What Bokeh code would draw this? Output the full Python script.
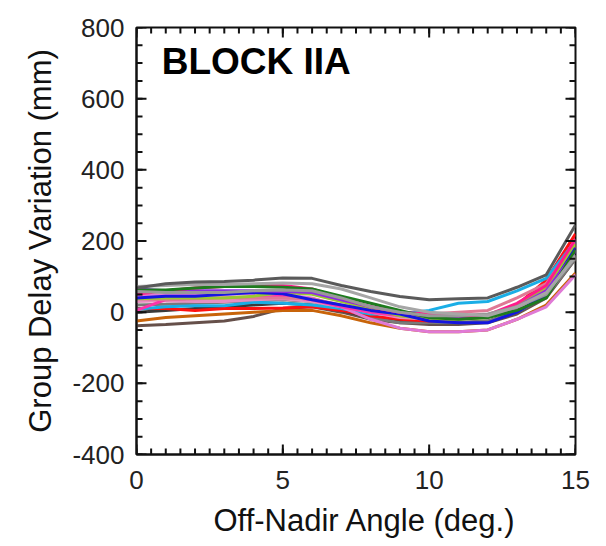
from bokeh.plotting import figure
from bokeh.models import Label, Range1d, FixedTicker, Title
from bokeh.embed import file_html
from bokeh.resources import INLINE

# Off-nadir angle (deg.)
angles = [0, 1, 2, 3, 4, 5, 6, 7, 8, 9, 10, 11, 12, 13, 14, 15]

# Group delay variation (mm) per satellite
sv_darkgray  = [68, 80, 85, 86, 90, 96, 95, 75, 58, 44, 35, 38, 40, 70, 105, 245]
sv_lightgray = [72, 75, 78, 78, 80, 82, 80, 65, 40, 15, 0, -5, -10, 15, 55, 155]
sv_gray      = [58, 55, 55, 55, 60, 62, 60, 40, 15, 0, -10, -10, -5, 15, 50, 160]
sv_green     = [62, 62, 68, 72, 72, 70, 65, 45, 25, 5, -15, -20, -15, 5, 40, 175]
sv_deeppink  = [50, 60, 68, 72, 74, 75, 65, 40, 15, 0, -5, -10, -8, 25, 75, 205]
sv_purple    = [65, 60, 60, 60, 60, 58, 55, 35, 15, 0, -10, -12, -10, 15, 60, 170]
sv_blue      = [40, 45, 45, 50, 55, 52, 35, 20, 5, -5, -25, -30, -30, 0, 50, 180]
sv_ygreen    = [38, 40, 40, 40, 45, 55, 50, 30, 10, -10, -20, -20, -15, 20, 70, 190]
sv_pvred     = [38, 35, 38, 40, 40, 40, 38, 20, 5, -5, -5, 0, 5, 40, 80, 195]
sv_lpink     = [30, 32, 30, 30, 35, 38, 30, 15, 0, -15, -20, -20, -15, 10, 55, 175]
sv_magenta   = [5, 35, 40, 40, 42, 45, 35, 15, 0, -10, -15, -15, -10, 20, 65, 185]
sv_midgray   = [20, 22, 25, 28, 32, 35, 30, 10, -15, -30, -30, -30, -25, 0, 45, 150]
sv_skyblue   = [8, 15, 18, 18, 28, 25, 20, 10, -5, -5, 5, 25, 30, 60, 95, 200]
sv_red       = [10, 10, 5, 10, 10, 12, 15, 5, -10, -20, -25, -20, -10, 20, 90, 220]
sv_black     = [0, 5, 10, 15, 20, 25, 20, 5, -15, -25, -30, -30, -25, 0, 45, 160]
sv_orchid    = [45, 50, 52, 50, 52, 50, 40, 15, -20, -45, -55, -55, -50, -20, 15, 105]
sv_chocolate = [-25, -15, -10, -5, 0, 5, 5, -10, -30, -45, -55, -55, -50, -20, 20, 110]
sv_darkbrown = [-38, -35, -30, -25, -12, 10, 15, 0, -20, -30, -35, -35, -30, -5, 40, 150]

series = [
    (sv_darkbrown, "#66504a"),
    (sv_chocolate, "#c8640a"),
    (sv_black, "#3a3a3a"),
    (sv_midgray, "#7a7a7a"),
    (sv_red, "#ff1010"),
    (sv_skyblue, "#1aaee6"),
    (sv_orchid, "#e07ad6"),
    (sv_lpink, "#e88ec0"),
    (sv_magenta, "#ff33aa"),
    (sv_pvred, "#df7895"),
    (sv_ygreen, "#9bc832"),
    (sv_blue, "#1515e0"),
    (sv_purple, "#8b2be0"),
    (sv_deeppink, "#ff1a8c"),
    (sv_green, "#1e7b1e"),
    (sv_gray, "#999999"),
    (sv_lightgray, "#a6a6a6"),
    (sv_darkgray, "#5a5a5a"),
]

x_ticks = [0, 5, 10, 15]
y_ticks = [-400, -200, 0, 200, 400, 600, 800]
x_minor = [i * 0.5 for i in range(31)]
y_minor = list(range(-400, 801, 50))

FONT = "Liberation Sans"
FW, FH = 439, 427
X0, X1, Y0, Y1 = 0, 15, -400, 800

p = figure(
    frame_width=FW, frame_height=FH,
    min_border_left=136, min_border_right=31,
    min_border_top=27, min_border_bottom=92,
    x_range=Range1d(X0, X1), y_range=Range1d(Y0, Y1),
    output_backend="svg", toolbar_location=None,
    y_axis_label="Group Delay Variation (mm)",
)
p.xgrid.visible = False
p.ygrid.visible = False
p.outline_line_color = "#111111"
p.outline_line_width = 2
p.background_fill_color = "white"
p.border_fill_color = "white"

for vals, col in series:
    p.line(angles, vals, line_color=col, line_width=3)

# inward ticks on all four sides, drawn as separate short lines
dx = (X1 - X0) / FW   # data units per pixel
dy = (Y1 - Y0) / FH
TICK = dict(line_color="#111111", line_width=2)
for ticks, L in ((x_minor, 6), (x_ticks, 10)):
    for t in ticks:
        p.line([t, t], [Y0, Y0 + L * dy], **TICK)
        p.line([t, t], [Y1, Y1 - L * dy], **TICK)
for ticks, L in ((y_minor, 6), (y_ticks, 10)):
    for t in ticks:
        p.line([X0, X0 + L * dx], [t, t], **TICK)
        p.line([X1, X1 - L * dx], [t, t], **TICK)

def style(ax, xdir):
    ax.ticker = FixedTicker(ticks=x_ticks if xdir else y_ticks)
    ax.major_tick_in = 0
    ax.major_tick_out = 0
    ax.minor_tick_in = 0
    ax.minor_tick_out = 0
    ax.axis_line_width = 2
    ax.axis_line_color = "#111111"
    ax.major_label_text_font = FONT
    ax.major_label_text_font_size = "26px"
    ax.major_label_text_color = "#222222"
    ax.axis_label_text_font = FONT
    ax.axis_label_text_font_size = "31px"
    ax.axis_label_text_font_style = "normal"
    ax.axis_label_text_color = "#111111"

style(p.xaxis[0], True)
style(p.yaxis[0], False)
p.yaxis[0].major_label_overrides = {-400: "-400", -200: "-200"}
p.xaxis[0].major_label_standoff = 16
p.yaxis[0].major_label_standoff = 12
p.yaxis[0].axis_label_standoff = 11

# x-axis title (sits a little right of the frame centre in the reference)
p.add_layout(Title(text="Off-Nadir Angle (deg.)", align="left", offset=77,
                   text_font=FONT, text_font_size="31px", text_font_style="normal",
                   text_color="#111111", standoff=19), "below")

p.add_layout(Label(x=0.86, y=705, text="BLOCK IIA", text_font=FONT,
                   text_font_size="37px", text_font_style="bold",
                   text_color="black", text_baseline="alphabetic"))

open("out.html", "w").write(file_html(p, INLINE))
